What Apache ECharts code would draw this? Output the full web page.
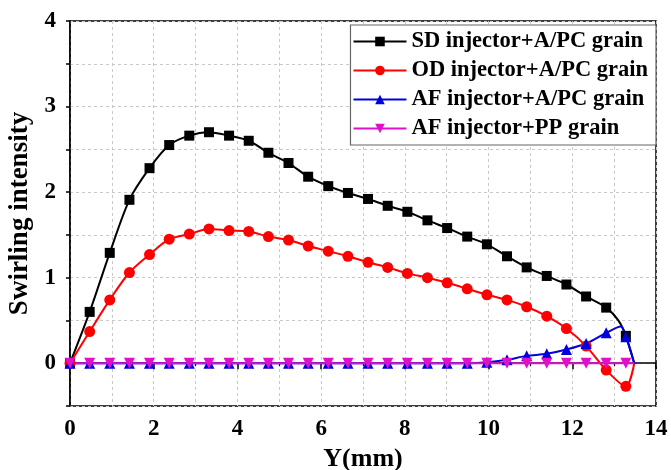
<!DOCTYPE html>
<html lang="en">
<head>
    <meta charset="UTF-8">
    <title>Swirling intensity</title>
    <script src="https://cdn.jsdelivr.net/npm/echarts@6/dist/echarts.min.js"></script>
    <style>
        html, body { margin: 0; padding: 0; background: #fff; }
        #main { width: 671px; height: 470px; }
    </style>
</head>
<body>
<div id="main"></div>
<script type="text/javascript">
    // radial position (mm) of each marker, last one is the wall (no marker)
    const yMm = [0, 0.47, 0.95, 1.42, 1.90, 2.37, 2.85, 3.32, 3.80, 4.27, 4.74, 5.22, 5.69, 6.17, 6.64,
        7.12, 7.59, 8.06, 8.54, 9.01, 9.49, 9.96, 10.44, 10.91, 11.39, 11.86, 12.33, 12.81, 13.28, 13.48]

    const sdApc = [0, 0.60, 1.29, 1.91, 2.28, 2.55, 2.66, 2.70, 2.66, 2.60, 2.46, 2.34, 2.18, 2.07, 1.99,
        1.92, 1.84, 1.77, 1.67, 1.58, 1.48, 1.39, 1.25, 1.12, 1.02, 0.92, 0.78, 0.65, 0.32, 0]
    const odApc = [0, 0.37, 0.74, 1.06, 1.27, 1.45, 1.51, 1.57, 1.55, 1.54, 1.48, 1.44, 1.37, 1.31, 1.25,
        1.18, 1.12, 1.05, 1.00, 0.94, 0.87, 0.80, 0.74, 0.66, 0.55, 0.405, 0.20, -0.08, -0.27, 0]
    const afApc = [0, 0, 0, 0, 0, 0, 0, 0, 0, 0, 0, 0, 0, 0, 0,
        0, 0, 0, 0, 0, 0, 0.01, 0.04, 0.086, 0.11, 0.16, 0.23, 0.355, 0.31, 0]
    const afPp = [0, 0, 0, 0, 0, 0, 0, 0, 0, 0, 0, 0, 0, 0, 0,
        0, 0, 0, 0, 0, 0, 0, 0, 0, 0, 0, 0, 0, 0, 0]

    // unmarked curve points near the wall
    const sdBend = [13.1, 0.50]
    const afPeak = [13.16, 0.43]

    const names = ['SD injector+A/PC grain', 'OD injector+A/PC grain', 'AF injector+A/PC grain', 'AF injector+PP grain']

    function build (vals, extra) {
        const out = []
        yMm.forEach((x, i) => {
            if (i === yMm.length - 1) {
                out.push({ value: [x, vals[i]], symbol: 'none' })
            } else {
                out.push([x, vals[i]])
            }
        })
        if (extra) out.push({ value: extra, symbol: 'none' })
        out.sort((a, b) => (a.value || a)[0] - (b.value || b)[0])
        return out
    }

    const font = 'Liberation Serif'
    const dashed = { color: '#c8c8c8', type: [3, 3], width: 1 }

    const chart = echarts.init(document.getElementById('main'))

    function line (name, color, symbol, size, data, rot) {
        return {
            name: name,
            type: 'line',
            data: data,
            smooth: 0.3,
            symbol: symbol,
            symbolSize: size,
            symbolRotate: rot || 0,
            lineStyle: { color: color, width: 2 },
            itemStyle: { color: color },
            emphasis: { disabled: true },
            animation: false
        }
    }

    chart.setOption({
        backgroundColor: '#fff',
        grid: {
            left: 70, right: 15, top: 21, bottom: 64,
            outerBoundsMode: 'none',
            show: true, borderColor: '#000', borderWidth: 1.5
        },
        legend: {
            orient: 'vertical',
            right: 15, top: 25,
            backgroundColor: '#fff',
            borderColor: '#666',
            borderWidth: 1.2,
            borderRadius: 0,
            padding: [5, 8, 5, 2],
            itemWidth: 53,
            itemHeight: 12,
            itemGap: 6,
            textStyle: { fontFamily: font, fontWeight: 'bold', fontSize: 22.5, color: '#000', lineHeight: 22 },
            data: names
        },
        xAxis: {
            type: 'value',
            min: 0, max: 14, interval: 2,
            name: 'Y(mm)',
            nameLocation: 'middle',
            nameGap: 40,
            nameTextStyle: { fontFamily: font, fontWeight: 'bold', fontSize: 26, color: '#000' },
            axisLine: { lineStyle: { color: '#000', width: 1.5 } },
            axisTick: { show: true, length: 6, lineStyle: { color: '#000', width: 1.5 } },
            minorTick: { show: true, splitNumber: 2, length: 3, lineStyle: { color: '#000', width: 1.2 } },
            axisLabel: { fontFamily: font, fontWeight: 'bold', fontSize: 23, color: '#000', margin: 12 },
            splitLine: { show: true, lineStyle: dashed },
            minorSplitLine: { show: true, lineStyle: dashed }
        },
        yAxis: {
            type: 'value',
            min: -0.5, max: 4, interval: 0.5,
            name: 'Swirling intensity',
            nameLocation: 'middle',
            nameGap: 34,
            nameTextStyle: { fontFamily: font, fontWeight: 'bold', fontSize: 27, color: '#000' },
            axisLine: { show: true, lineStyle: { color: '#000', width: 1.5 } },
            axisTick: { show: true, length: 4, lineStyle: { color: '#000', width: 1.5 } },
            axisLabel: {
                fontFamily: font, fontWeight: 'bold', fontSize: 23, color: '#000', margin: 14,
                formatter: v => (Number.isInteger(v) ? String(v) : '')
            },
            splitLine: { show: true, lineStyle: dashed }
        },
        series: [
            line(names[0], '#000000', 'rect', 10, build(sdApc, sdBend)),
            line(names[1], '#ff0000', 'circle', 11, build(odApc)),
            line(names[2], '#0000dd', 'triangle', 11, build(afApc, afPeak)),
            line(names[3], '#e010c8', 'triangle', 11, build(afPp), 180)
        ]
    })
</script>
</body>
</html>
